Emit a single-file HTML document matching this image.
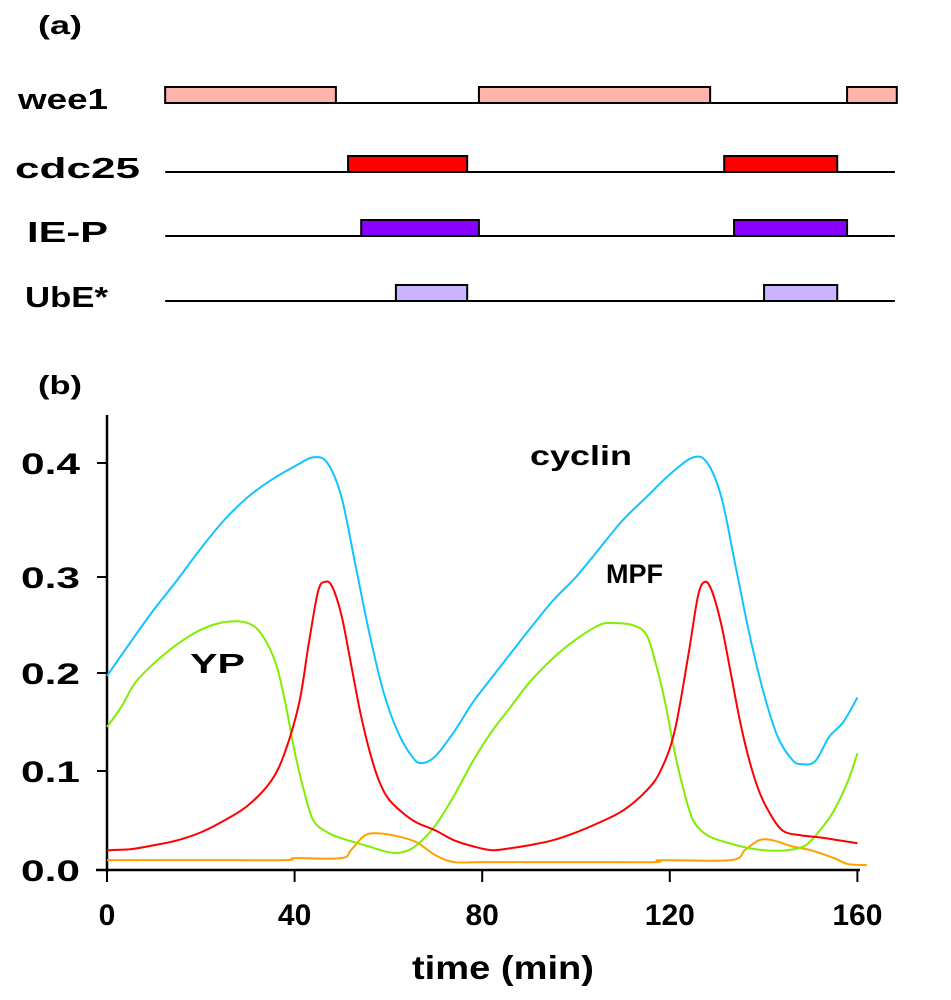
<!DOCTYPE html>
<html><head><meta charset="utf-8"><style>
body{margin:0;background:#fff}
svg{display:block;font-family:"Liberation Sans",Arial,sans-serif;font-weight:bold}
</style></head><body>
<svg id="fig" width="951" height="1000" viewBox="0 0 951 1000">
<text x="38" y="34" font-size="26" textLength="44" lengthAdjust="spacingAndGlyphs">(a)</text>
<text x="38" y="394" font-size="26" textLength="44" lengthAdjust="spacingAndGlyphs">(b)</text>
<g id="panelA"></g>
<g id="axes"></g>
<g id="series"></g>
<text x="530" y="465" font-size="28" textLength="102" lengthAdjust="spacingAndGlyphs">cyclin</text>
<text x="606" y="583" font-size="27">MPF</text>
<text x="190" y="673" font-size="28" textLength="55" lengthAdjust="spacingAndGlyphs">YP</text>
<text x="412" y="979" font-size="33" textLength="182" lengthAdjust="spacingAndGlyphs">time (min)</text>
</svg>
<script>
const rowNames = ["wee1","cdc25","IE-P","UbE*"];
const rowColors = ["#ffb3aa","#ff0000","#8800ff","#ccb3ff"];
const rowBars = [[[12.4,48.8],[79.3,128.6],[157.8,168.4]],[[51.4,76.8],[131.6,155.7]],[[54.2,79.3],[133.7,157.8]],[[61.6,76.8],[140.1,155.7]]];
const rowLineY = [103,172,236,301];
const rowLabelX = [18,15,27,25];
const rowLabelW = [90,125,81,83];

const tTime = [0,5,10,15,20,25,30,35,40,44,47,50,53,56,59,62,65,67,70,74,78,82,86,90,95,100,105,110,115,120,125,128,131,134,137,140,143,146,148,151,154,157,160];
const cyclin = [0.197,0.232,0.266,0.297,0.325,0.35,0.37,0.385,0.397,0.405,0.40,0.37,0.31,0.24,0.18,0.14,0.115,0.108,0.115,0.14,0.17,0.195,0.22,0.245,0.275,0.30,0.325,0.35,0.37,0.39,0.405,0.40,0.37,0.31,0.24,0.18,0.135,0.112,0.107,0.11,0.135,0.15,0.175];
const mTime = [0,5,10,15,20,25,30,35,38,41,43,45,46.5,48,50,52,54,56,58,60,63,66,70,74,78,82,86,90,95,100,105,110,115,118,121,124,126,127.5,129,131,133,135,137,139,141,144,148,152,156,160];
const mpf = [0.02,0.021,0.025,0.03,0.038,0.05,0.065,0.09,0.12,0.17,0.23,0.285,0.295,0.29,0.26,0.21,0.16,0.12,0.09,0.072,0.058,0.048,0.04,0.03,0.024,0.02,0.022,0.025,0.03,0.038,0.048,0.06,0.08,0.1,0.14,0.22,0.28,0.295,0.285,0.25,0.2,0.15,0.11,0.08,0.06,0.04,0.035,0.033,0.03,0.027];
const gTime = [0,3,6,10,15,20,25,30,33,36,38,40,42,44,47,50,55,60,63,66,70,74,78,82,86,90,95,100,105,108,112,115,117,119,121,123,125,128,132,136,140,145,149,152,155,158,160];
const yp = [0.145,0.165,0.19,0.21,0.23,0.245,0.253,0.252,0.24,0.21,0.17,0.12,0.08,0.05,0.038,0.032,0.025,0.018,0.018,0.025,0.045,0.075,0.11,0.14,0.165,0.19,0.215,0.235,0.25,0.252,0.25,0.24,0.21,0.17,0.12,0.08,0.05,0.035,0.028,0.023,0.02,0.02,0.025,0.04,0.06,0.09,0.118];
const oTime = [0,20,38,40,50,52,55,58,62,66,70,74,80,100,117,118,133,136,139,142,146,150,155,158,162];
const ubeOrange = [0.01,0.01,0.01,0.012,0.012,0.02,0.035,0.037,0.034,0.028,0.015,0.008,0.008,0.008,0.008,0.01,0.01,0.02,0.03,0.03,0.024,0.02,0.012,0.006,0.005];
const yTicks = [0,0.1,0.2,0.3,0.4];
const yTickLabels = ["0.0","0.1","0.2","0.3","0.4"];
const xTicks = [0,40,80,120,160];

const NS="http://www.w3.org/2000/svg";
const x = t => 107 + t*4.69;
const yPos = [870,771,673,577,463];
function y(v){
  if(v<=0.1) return yPos[0]+(yPos[1]-yPos[0])*(v/0.1);
  for(let i=1;i<4;i++){ if(v<=yTicks[i+1]) return yPos[i]+(yPos[i+1]-yPos[i])*((v-yTicks[i])/0.1); }
  return yPos[3]+(yPos[4]-yPos[3])*((v-0.3)/0.1);
}
function mk(tag,attrs,parent){const e=document.createElementNS(NS,tag);for(const k in attrs)e.setAttribute(k,attrs[k]);parent.appendChild(e);return e;}

const pa=document.getElementById('panelA');
rowNames.forEach((n,i)=>{
  const lbl=mk('text',{x:rowLabelX[i],y:rowLineY[i]+6,'font-size':29,textLength:rowLabelW[i],lengthAdjust:'spacingAndGlyphs'},pa);
  lbl.textContent=n;
  
  
  const ln=mk('line',{x1:x(12.4),x2:x(168),y1:rowLineY[i],y2:rowLineY[i],stroke:'#000','stroke-width':2},pa);
  
  
  rowBars[i].forEach(b=>{
    const r=mk('rect',{x:x(b[0]),y:rowLineY[i]-16,width:x(b[1])-x(b[0]),height:16,fill:rowColors[i],stroke:'#000','stroke-width':2},pa);
    
    
  });
});

const ax=document.getElementById('axes');
const yl=mk('line',{x1:107,x2:107,y1:415,y2:872,stroke:'#000','stroke-width':2.5},ax);


const xl=mk('line',{x1:96,x2:860,y1:870,y2:870,stroke:'#000','stroke-width':2.5},ax);


yTicks.forEach((v,i)=>{
  const tk=mk('line',{x1:97,x2:107,y1:y(v),y2:y(v),stroke:'#000','stroke-width':2},ax);
  
  
  const t=mk('text',{x:21,y:y(v)+11,'font-size':30,textLength:59,lengthAdjust:'spacingAndGlyphs'},ax);
  t.textContent=yTickLabels[i];
  
  
});
xTicks.forEach(v=>{
  const tk=mk('line',{x1:x(v),x2:x(v),y1:870,y2:882,stroke:'#000','stroke-width':2},ax);
  
  
  const t=mk('text',{x:x(v),y:925,'font-size':30,'text-anchor':'middle'},ax);
  t.textContent=String(v);
  
  
});

function path(ts,vs){
  const p=ts.map((t,i)=>[x(t),y(vs[i])]);
  let d=`M${p[0][0]},${p[0][1]}`;
  for(let i=0;i<p.length-1;i++){
    const p0=p[Math.max(0,i-1)],p1=p[i],p2=p[i+1],p3=p[Math.min(p.length-1,i+2)];
    const c1=[p1[0]+(p2[0]-p0[0])/6,p1[1]+(p2[1]-p0[1])/6];
    const c2=[p2[0]-(p3[0]-p1[0])/6,p2[1]-(p3[1]-p1[1])/6];
    d+=` C${c1[0]},${c1[1]} ${c2[0]},${c2[1]} ${p2[0]},${p2[1]}`;
  }
  return d;
}
const sg=document.getElementById('series');
const s1=mk('path',{d:path(oTime,ubeOrange),fill:'none',stroke:'#ffa000','stroke-width':2},sg);


const s2=mk('path',{d:path(gTime,yp),fill:'none',stroke:'#80ee00','stroke-width':2},sg);


const s3=mk('path',{d:path(mTime,mpf),fill:'none',stroke:'#ff0000','stroke-width':2},sg);


const s4=mk('path',{d:path(tTime,cyclin),fill:'none',stroke:'#11c4ff','stroke-width':2},sg);


</script>
</body></html>
